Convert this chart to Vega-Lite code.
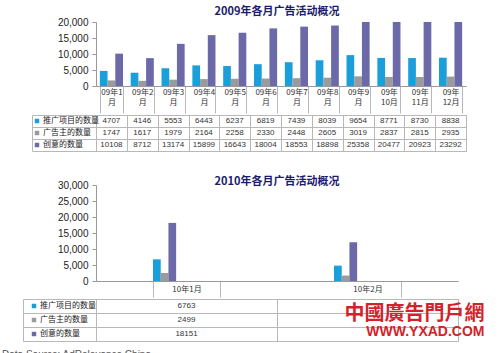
{
  "$schema": "https://vega.github.io/schema/vega-lite/v6.json",
  "background": "white",
  "padding": {"left": 2, "top": 6, "right": 5, "bottom": 3},
  "title": {"text": "Data Source: AdRelevance China", "orient": "bottom", "anchor": "start", "dx": -20, "offset": 8, "fontSize": 10, "fontWeight": "normal", "color": "#555555", "font": "Liberation Sans"},
  "datasets": {
    "d2009": [
      {"month": "09年1月", "series": "推广项目的数量", "value": 4707},
      {"month": "09年2月", "series": "推广项目的数量", "value": 4146},
      {"month": "09年3月", "series": "推广项目的数量", "value": 5553},
      {"month": "09年4月", "series": "推广项目的数量", "value": 6443},
      {"month": "09年5月", "series": "推广项目的数量", "value": 6237},
      {"month": "09年6月", "series": "推广项目的数量", "value": 6819},
      {"month": "09年7月", "series": "推广项目的数量", "value": 7439},
      {"month": "09年8月", "series": "推广项目的数量", "value": 8039},
      {"month": "09年9月", "series": "推广项目的数量", "value": 9654},
      {"month": "09年10月", "series": "推广项目的数量", "value": 8771},
      {"month": "09年11月", "series": "推广项目的数量", "value": 8730},
      {"month": "09年12月", "series": "推广项目的数量", "value": 8838},
      {"month": "09年1月", "series": "广告主的数量", "value": 1747},
      {"month": "09年2月", "series": "广告主的数量", "value": 1617},
      {"month": "09年3月", "series": "广告主的数量", "value": 1979},
      {"month": "09年4月", "series": "广告主的数量", "value": 2164},
      {"month": "09年5月", "series": "广告主的数量", "value": 2258},
      {"month": "09年6月", "series": "广告主的数量", "value": 2330},
      {"month": "09年7月", "series": "广告主的数量", "value": 2448},
      {"month": "09年8月", "series": "广告主的数量", "value": 2605},
      {"month": "09年9月", "series": "广告主的数量", "value": 3019},
      {"month": "09年10月", "series": "广告主的数量", "value": 2837},
      {"month": "09年11月", "series": "广告主的数量", "value": 2815},
      {"month": "09年12月", "series": "广告主的数量", "value": 2935},
      {"month": "09年1月", "series": "创意的数量", "value": 10108},
      {"month": "09年2月", "series": "创意的数量", "value": 8712},
      {"month": "09年3月", "series": "创意的数量", "value": 13174},
      {"month": "09年4月", "series": "创意的数量", "value": 15899},
      {"month": "09年5月", "series": "创意的数量", "value": 16643},
      {"month": "09年6月", "series": "创意的数量", "value": 18004},
      {"month": "09年7月", "series": "创意的数量", "value": 18553},
      {"month": "09年8月", "series": "创意的数量", "value": 18898},
      {"month": "09年9月", "series": "创意的数量", "value": 25358},
      {"month": "09年10月", "series": "创意的数量", "value": 20477},
      {"month": "09年11月", "series": "创意的数量", "value": 20923},
      {"month": "09年12月", "series": "创意的数量", "value": 23292}
    ],
    "d2010": [
      {"month": "10年1月", "series": "推广项目的数量", "value": 6763},
      {"month": "10年2月", "series": "推广项目的数量", "value": 4800},
      {"month": "10年1月", "series": "广告主的数量", "value": 2499},
      {"month": "10年2月", "series": "广告主的数量", "value": 1700},
      {"month": "10年1月", "series": "创意的数量", "value": 18151},
      {"month": "10年2月", "series": "创意的数量", "value": 12100}
    ]
  },
  "concat": [
    {
      "vconcat": [
        {
          "width": 370,
          "height": 64,
          "data": {"name": "d2009"},
          "title": {"text": "2009年各月广告活动概况", "offset": 0, "dx": -4},
          "mark": {"type": "bar"},
          "encoding": {
            "x": {"field": "month", "type": "nominal", "sort": null,
              "scale": {"paddingInner": 0.25, "paddingOuter": 0.125},
              "axis": {"title": null, "labelAngle": 0, "domainColor": "#999999", "tickBand": "extent", "tickSize": 27, "tickColor": "#b8b8b8", "labelPadding": -25, "labelBaseline": "top", "labelFontSize": 8, "labelColor": "#333333", "labelFont": "Noto Sans CJK SC", "labelOverlap": false,
                "labelExpr": "isString(datum.value) && length(datum.value) == 5 ? [slice(datum.value, 0, 4), '月'] : isString(datum.value) ? [slice(datum.value, 0, 3), slice(datum.value, 3)] : datum.label"}},
            "xOffset": {"field": "series", "type": "nominal", "sort": ["推广项目的数量", "广告主的数量", "创意的数量"]},
            "y": {"field": "value", "type": "quantitative",
              "scale": {"domain": [0, 20000], "nice": false, "clamp": true},
              "axis": {"title": null, "values": [0, 5000, 10000, 15000, 20000], "grid": false, "domainColor": "#999999", "tickColor": "#999999", "tickSize": 4, "labelPadding": 4, "labelFontSize": 10, "labelColor": "#222222"}},
            "color": {"field": "series", "type": "nominal",
              "scale": {"domain": ["推广项目的数量", "广告主的数量", "创意的数量"], "range": ["#1b9fdb", "#9b9b9b", "#6b69a8"]},
              "legend": null}
          }
        },
        {
          "width": 370,
          "height": 36,
          "data": {"name": "d2009"},
          "view": {"stroke": "#b8b8b8"},
          "encoding": {
            "x": {"field": "month", "type": "nominal", "sort": null, "scale": {"type": "band", "paddingInner": 0, "paddingOuter": 0},
              "axis": {"title": null, "labels": false, "domain": false, "tickBand": "extent", "tickSize": -36, "tickColor": "#b8b8b8"}},
            "y": {"field": "series", "type": "nominal", "sort": ["推广项目的数量", "广告主的数量", "创意的数量"],
              "scale": {"type": "band", "paddingInner": 0, "paddingOuter": 0},
              "axis": {"title": null, "labels": false, "offset": 64, "domainColor": "#b8b8b8", "tickColor": "#b8b8b8", "tickBand": "extent", "tickSize": -434, "grid": false}}
          },
          "layer": [
            {"mark": {"type": "text", "fontSize": 8, "color": "#333333", "font": "Liberation Sans"},
             "encoding": {"text": {"field": "value", "type": "quantitative", "format": "d"}}},
            {"mark": {"type": "square", "opacity": 0},
             "encoding": {"color": {"field": "series", "type": "nominal",
               "scale": {"domain": ["推广项目的数量", "广告主的数量", "创意的数量"], "range": ["#1b9fdb", "#9b9b9b", "#6b69a8"]},
               "legend": {"title": null, "orient": "none", "legendX": -63, "legendY": 2, "symbolType": "square", "symbolSize": 20, "symbolOpacity": 1, "symbolStrokeWidth": 0, "labelFontSize": 8, "labelFont": "Noto Sans CJK SC", "labelColor": "#222222", "labelOffset": 2, "rowPadding": 4, "padding": 0}}}}
          ]
        }
      ],
      "spacing": 0,
      "resolve": {"scale": {"color": "independent", "x": "independent"}, "legend": {"color": "independent"}}
    },
    {
      "vconcat": [
        {
          "width": 362,
          "height": 96,
          "data": {"name": "d2010"},
          "title": {"text": "2010年各月广告活动概况", "offset": -7},
          "mark": {"type": "bar"},
          "encoding": {
            "x": {"field": "month", "type": "nominal", "sort": null,
              "scale": {"paddingInner": 0.63, "paddingOuter": 0.315},
              "axis": {"title": null, "labelAngle": 0, "domainColor": "#999999", "tickBand": "extent", "tickSize": 16, "tickColor": "#b8b8b8", "labelPadding": -8, "labelBaseline": "middle", "labelFontSize": 8, "labelColor": "#333333", "labelFont": "Noto Sans CJK SC", "labelOverlap": false}},
            "xOffset": {"field": "series", "type": "nominal", "sort": ["推广项目的数量", "广告主的数量", "创意的数量"]},
            "y": {"field": "value", "type": "quantitative",
              "scale": {"domain": [0, 30000], "nice": false},
              "axis": {"title": null, "values": [0, 5000, 10000, 15000, 20000, 25000, 30000], "grid": false, "domainColor": "#999999", "tickColor": "#999999", "tickSize": 4, "labelPadding": 4, "labelFontSize": 10, "labelColor": "#222222"}},
            "color": {"field": "series", "type": "nominal",
              "scale": {"domain": ["推广项目的数量", "广告主的数量", "创意的数量"], "range": ["#1b9fdb", "#9b9b9b", "#6b69a8"]},
              "legend": null}
          }
        },
        {
          "width": 362,
          "height": 42,
          "data": {"name": "d2010"},
          "view": {"stroke": "#b8b8b8"},
          "title": {"text": "中國廣告門戶網", "subtitle": "WWW.YXAD.COM", "orient": "bottom", "anchor": "end", "dx": 26, "offset": -38, "font": "Noto Sans CJK TC", "fontSize": 20, "fontWeight": "bold", "color": "#d2232a", "subtitleFont": "Liberation Sans", "subtitleFontSize": 14, "subtitleFontWeight": "bold", "subtitleColor": "#d2232a", "subtitlePadding": 1},
          "encoding": {
            "x": {"field": "month", "type": "nominal", "sort": null, "scale": {"type": "band", "paddingInner": 0, "paddingOuter": 0, "domain": ["10年1月", "10年2月"]},
              "axis": {"title": null, "labels": false, "domain": false, "tickBand": "extent", "tickSize": -42, "tickColor": "#b8b8b8"}},
            "y": {"field": "series", "type": "nominal", "sort": ["推广项目的数量", "广告主的数量", "创意的数量"],
              "scale": {"type": "band", "paddingInner": 0, "paddingOuter": 0},
              "axis": {"title": null, "labels": false, "offset": 73, "domainColor": "#b8b8b8", "tickColor": "#b8b8b8", "tickBand": "extent", "tickSize": -435, "grid": false}}
          },
          "layer": [
            {"transform": [{"filter": "datum.month == '10年1月'"}],
             "mark": {"type": "text", "fontSize": 8, "color": "#333333", "font": "Liberation Sans"},
             "encoding": {"text": {"field": "value", "type": "quantitative", "format": "d"}}},
            {"mark": {"type": "square", "opacity": 0},
             "encoding": {"color": {"field": "series", "type": "nominal",
               "scale": {"domain": ["推广项目的数量", "广告主的数量", "创意的数量"], "range": ["#1b9fdb", "#9b9b9b", "#6b69a8"]},
               "legend": {"title": null, "orient": "none", "legendX": -66, "legendY": 3, "symbolType": "square", "symbolSize": 20, "symbolOpacity": 1, "symbolStrokeWidth": 0, "labelFontSize": 8, "labelFont": "Noto Sans CJK SC", "labelColor": "#222222", "labelOffset": 2, "rowPadding": 6, "padding": 0}}}}
          ]
        }
      ],
      "spacing": 0,
      "resolve": {"scale": {"color": "independent", "x": "independent"}, "legend": {"color": "independent"}}
    }
  ],
  "columns": 1,
  "align": "none",
  "spacing": 24,
  "resolve": {"scale": {"color": "independent", "x": "independent"}, "legend": {"color": "independent"}},
  "config": {
    "font": "Liberation Sans",
    "view": {"stroke": null},
    "title": {"font": "Noto Sans CJK SC", "fontSize": 11, "fontWeight": "bold", "color": "#1b1b6b", "anchor": "middle"},
    "axis": {"labelFont": "Liberation Sans"}
  }
}
